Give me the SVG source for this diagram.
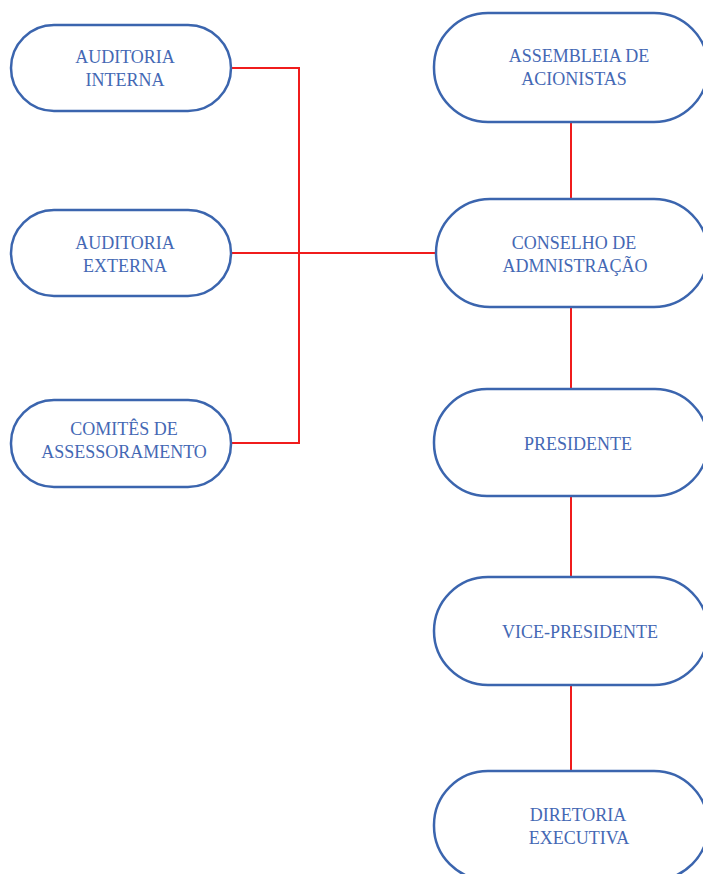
<svg xmlns="http://www.w3.org/2000/svg" width="703" height="874" viewBox="0 0 703 874">
<style>
.n{fill:#fff;stroke:#3b65ae;stroke-width:2.5}
.t{font-family:'Liberation Serif','Times New Roman','DejaVu Serif',serif;font-size:18px;fill:#4468b4;text-anchor:middle}
.c{fill:none;stroke:#f01c1c;stroke-width:2}
</style>
<rect width="703" height="874" fill="#fff"/>
<g id="connectors">
<polyline class="c" points="231,68 299,68 299,443 231,443"/>
<line class="c" x1="231" y1="253" x2="435" y2="253"/>
<line class="c" x1="571" y1="122" x2="571" y2="199"/>
<line class="c" x1="571" y1="307" x2="571" y2="389"/>
<line class="c" x1="571" y1="496" x2="571" y2="577"/>
<line class="c" x1="571" y1="685" x2="571" y2="771"/>
</g>
<g id="auditoria-interna">
<rect class="n" x="11" y="25" width="220" height="86" rx="43"/>
<text class="t" x="125" y="63">AUDITORIA</text>
<text class="t" x="125" y="86">INTERNA</text>
</g>
<g id="auditoria-externa">
<rect class="n" x="11" y="210" width="220" height="86" rx="43"/>
<text class="t" x="125" y="249">AUDITORIA</text>
<text class="t" x="125" y="272">EXTERNA</text>
</g>
<g id="comites">
<rect class="n" x="11" y="400" width="220" height="87" rx="43"/>
<text class="t" x="124" y="435">COMITÊS DE</text>
<text class="t" x="124" y="458">ASSESSORAMENTO</text>
</g>
<g id="assembleia">
<rect class="n" x="434" y="13" width="274" height="109" rx="54"/>
<text class="t" x="579" y="62">ASSEMBLEIA DE</text>
<text class="t" x="574" y="85">ACIONISTAS</text>
</g>
<g id="conselho">
<rect class="n" x="436" y="199" width="272" height="108" rx="54"/>
<text class="t" x="574" y="249">CONSELHO DE</text>
<text class="t" x="575" y="272">ADMNISTRAÇÃO</text>
</g>
<g id="presidente">
<rect class="n" x="434" y="389" width="274" height="107" rx="53"/>
<text class="t" x="578" y="450">PRESIDENTE</text>
</g>
<g id="vice-presidente">
<rect class="n" x="434" y="577" width="274" height="108" rx="54"/>
<text class="t" x="580" y="638">VICE-PRESIDENTE</text>
</g>
<g id="diretoria">
<rect class="n" x="434" y="771" width="274" height="109" rx="54"/>
<text class="t" x="578" y="821">DIRETORIA</text>
<text class="t" x="579" y="844">EXECUTIVA</text>
</g>
</svg>
